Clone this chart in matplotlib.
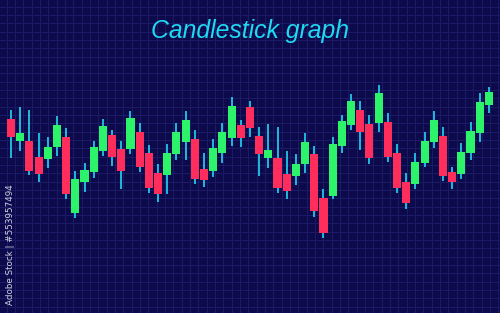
import numpy as np
import matplotlib
matplotlib.use("Agg")
import matplotlib.pyplot as plt

# candle values (arbitrary price units)
opens = [194, 172, 172, 156, 154, 166, 176, 100, 131, 141, 162, 178, 164, 164, 181, 160, 140, 138, 159, 171,
         174, 144, 142, 160, 175, 188, 206, 177, 155, 155, 139, 137, 149, 159, 115, 117, 167, 188, 203, 189,
         190, 191, 160, 131, 129, 150, 171, 177, 141, 139, 160, 180, 208]
closes = [176, 180, 142, 139, 166, 188, 119, 134, 143, 166, 187, 156, 142, 195, 146, 125, 119, 160, 181, 193,
          134, 133, 165, 181, 207, 175, 185, 159, 163, 125, 122, 149, 171, 102, 80, 169, 192, 212, 181, 155,
          220, 156, 125, 110, 151, 172, 193, 137, 131, 161, 182, 211, 221]
highs = [203, 206, 203, 180, 176, 197, 185, 142, 150, 172, 194, 183, 172, 202, 190, 168, 149, 169, 190, 202,
         183, 160, 174, 190, 216, 193, 212, 186, 189, 186, 162, 159, 180, 167, 124, 176, 198, 219, 212, 198,
         228, 200, 169, 140, 160, 181, 202, 186, 146, 170, 191, 220, 226]
lows = [155, 162, 138, 131, 145, 157, 114, 95, 121, 135, 157, 147, 124, 159, 141, 120, 111, 119, 153, 153,
        129, 126, 136, 150, 167, 166, 176, 137, 145, 120, 114, 128, 140, 96, 75, 114, 160, 183, 163, 149,
        181, 151, 120, 104, 124, 146, 165, 132, 124, 134, 153, 171, 200]

title = "Candlestick graph"
stock_id = "Adobe Stock | #553957494"

bg = "#0d0a4c"
grid_col = "#1b1b68"
up_col = "#2cf36a"
down_col = "#ff2d5c"
wick_col = "#22c6e8"

fig = plt.figure(figsize=(5, 3.13), dpi=100, facecolor=bg)

# background grid in pixel coordinates
bgax = fig.add_axes([0, 0, 1, 1])
bgax.set_facecolor(bg)
bgax.set_xlim(0, 500)
bgax.set_ylim(313, 0)
for gx in np.arange(6.7, 500, 8.33):
    bgax.axvline(gx, color=grid_col, lw=0.7, zorder=0)
for gy in np.arange(6.7, 313, 8.33):
    bgax.axhline(gy, color=grid_col, lw=0.7, zorder=0)
bgax.axis("off")

ax = fig.add_axes([0, 0, 1, 1])
ax.patch.set_alpha(0)
ax.axis("off")

o = np.array(opens)
c = np.array(closes)
h = np.array(highs)
l = np.array(lows)
x = np.arange(len(o))
up = c >= o
cols = np.where(up, up_col, down_col)

ax.vlines(x, l, h, color=wick_col, lw=1.3, zorder=2)
ax.bar(x, np.abs(c - o), bottom=np.minimum(o, c), width=0.88, color=cols, zorder=3)

step = 9.19
ax.set_xlim(-11 / step, (500 - 11) / step)
ax.set_ylim(0, 313)

fig.text(0.5, 1 - 31 / 313, title, ha="center", va="center", color="#1fd9f2",
         fontsize=17.8, style="italic", family="Liberation Sans")
fig.text(11 / 500, 1 - 305 / 313, stock_id, rotation=90, ha="center", va="bottom",
         color="#d0d0e0", fontsize=6.3, family="DejaVu Sans")

fig.savefig("out.png", dpi=100, facecolor=bg)
